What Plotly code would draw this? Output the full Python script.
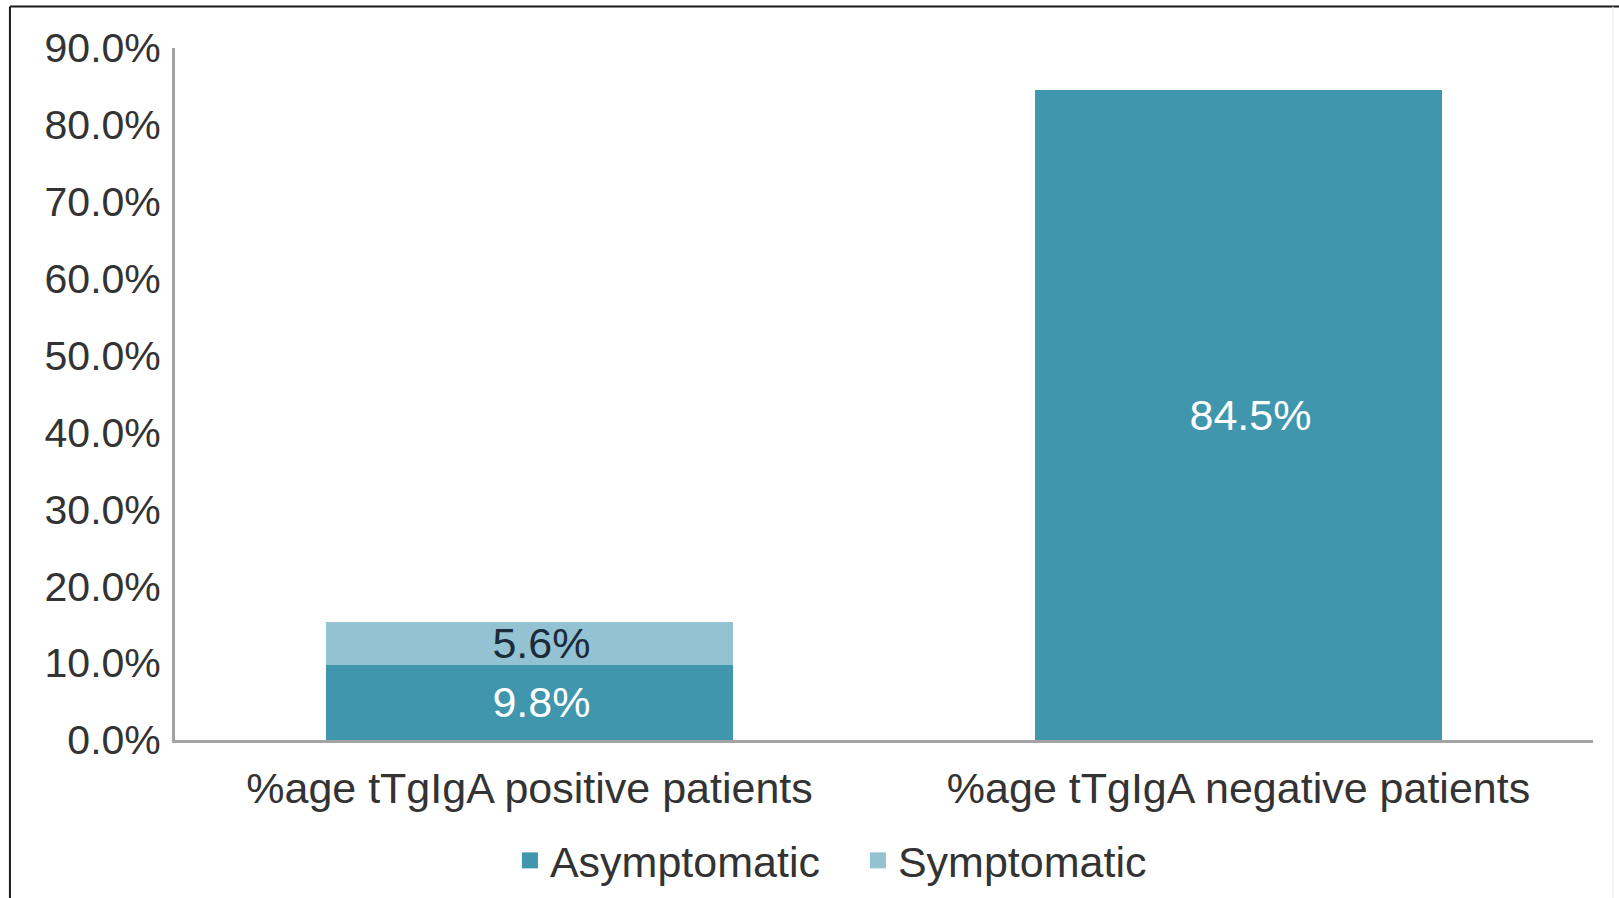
import plotly.graph_objects as go

# Share of patients by tTG IgA result, split by symptom status
categories = ["%age tTgIgA positive patients", "%age tTgIgA negative patients"]
asymptomatic = [9.8, 84.5]
symptomatic = [5.6, None]
y_ticks = [0, 10, 20, 30, 40, 50, 60, 70, 80, 90]
y_tick_text = [f"{v:.1f}%" for v in y_ticks]

FONT = "Liberation Sans, Arial, sans-serif"
TICK_SIZE = 41
TEXT_SIZE = 43
TEXT_COLOR = "#333333"
AXIS_COLOR = "#a3a3a3"
COLORS = {"Asymptomatic": "#3f96ad", "Symptomatic": "#93c3d3"}
LABEL_TEMPLATE = "\u00a0\u00a0%{y:.1f}%"

fig = go.Figure()
fig.add_trace(go.Bar(
    name="Asymptomatic",
    legendgroup="Asymptomatic",
    showlegend=False,
    x=categories,
    y=asymptomatic,
    marker=dict(color=COLORS["Asymptomatic"], line=dict(width=0)),
    texttemplate=LABEL_TEMPLATE,
    textposition="inside",
    insidetextanchor="middle",
    constraintext="none",
    textangle=0,
    textfont=dict(family=FONT, size=TEXT_SIZE, color="#ffffff"),
))
fig.add_trace(go.Bar(
    name="Symptomatic",
    legendgroup="Symptomatic",
    showlegend=False,
    x=categories,
    y=symptomatic,
    marker=dict(color=COLORS["Symptomatic"], line=dict(width=0)),
    texttemplate=LABEL_TEMPLATE,
    textposition="inside",
    insidetextanchor="middle",
    constraintext="none",
    textangle=0,
    textfont=dict(family=FONT, size=TEXT_SIZE, color="#1c2b3a"),
))

# Legend entries with larger square swatches
for name, color in COLORS.items():
    fig.add_trace(go.Scatter(
        name=name,
        legendgroup=name,
        x=[None], y=[None],
        mode="markers",
        marker=dict(symbol="square", size=16, color=color),
        hoverinfo="skip",
    ))

# Frame around the figure
frame = dict(type="line", xref="paper", yref="paper", layer="above")
fig.add_shape(**frame, x0=-0.1164, x1=-0.1164, y0=1.06, y1=-0.4,
              line=dict(color="#1a1a1a", width=2))
fig.add_shape(**frame, x0=-0.1164, x1=1.02, y0=1.06, y1=1.06,
              line=dict(color="#1a1a1a", width=2))
fig.add_shape(**frame, x0=1.0141, x1=1.0141, y0=1.06, y1=-0.4,
              line=dict(color="#ececec", width=1))

fig.update_layout(
    barmode="stack",
    bargap=0.425,
    width=1619,
    height=898,
    margin=dict(l=175, r=26, t=48, b=158, autoexpand=False),
    paper_bgcolor="white",
    plot_bgcolor="white",
    font=dict(family=FONT, size=TEXT_SIZE, color=TEXT_COLOR),
    showlegend=True,
    legend=dict(
        orientation="h",
        x=0.2362, xanchor="left",
        y=-0.174, yanchor="middle",
        font=dict(family=FONT, size=TEXT_SIZE, color=TEXT_COLOR),
        itemwidth=30,
        entrywidth=303,
        entrywidthmode="pixels",
        traceorder="normal",
        tracegroupgap=0,
    ),
    xaxis=dict(
        showline=True,
        linecolor=AXIS_COLOR,
        linewidth=3,
        ticks="",
        showgrid=False,
        automargin=False,
        tickfont=dict(family=FONT, size=TEXT_SIZE, color=TEXT_COLOR),
        ticklabelstandoff=8,
    ),
    yaxis=dict(
        range=[0, 90],
        tickvals=y_ticks,
        ticktext=y_tick_text,
        showline=True,
        linecolor=AXIS_COLOR,
        linewidth=3,
        ticks="",
        showgrid=False,
        zeroline=False,
        automargin=False,
        tickfont=dict(family=FONT, size=TICK_SIZE, color=TEXT_COLOR),
        ticklabelstandoff=3,
    ),
)

fig.write_html("out.html")
